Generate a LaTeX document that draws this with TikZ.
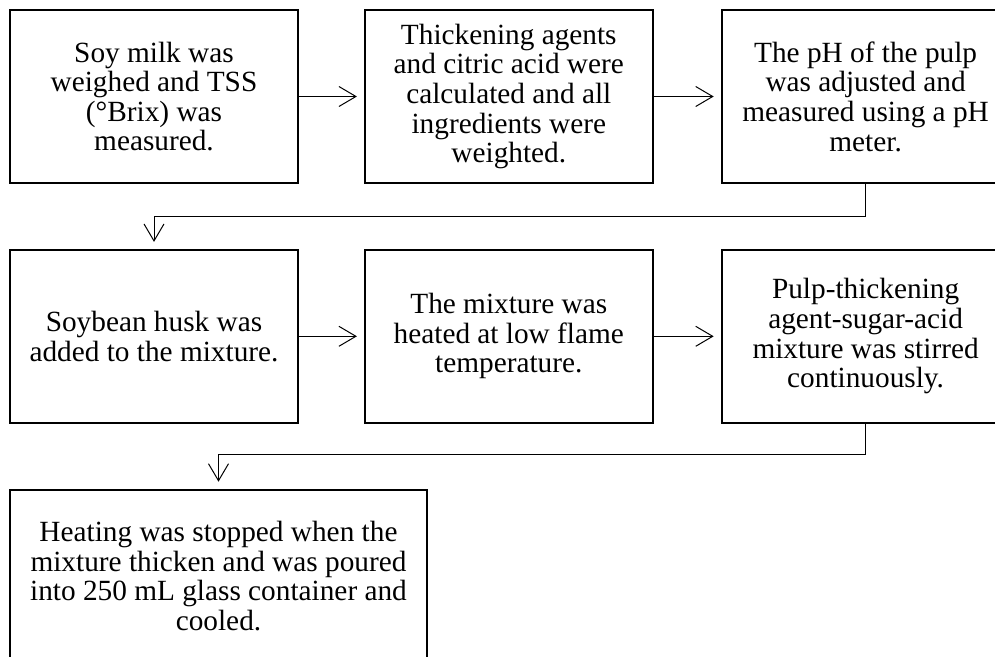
\documentclass[tikz,border=0pt]{standalone}
\usepackage{fontspec}
\setmainfont{Liberation Serif}
\usetikzlibrary{arrows.meta,positioning}

\begin{document}
\begin{tikzpicture}[
    stepbox/.style={draw, line width=1.8pt, minimum width=288pt, minimum height=173pt,
      inner sep=0pt, align=center, font=\fontsize{29.3}{29.6}\selectfont},
    widebox/.style={stepbox, minimum width=417pt},
    link/.style={line width=1pt, -{Straight Barb[length=17pt,width=20pt]}, shorten >=7pt}
  ]
  \clip (-154pt,-559.5pt) rectangle (841pt,96.5pt);

  \node [stepbox] (soymilk) at (0,0) {Soy milk was\\weighed and TSS\\(°Brix) was\\measured.};
  \node [stepbox, right=65pt of soymilk] (agents) {Thickening agents\\and citric acid were\\calculated and all\\ingredients were\\weighted.};
  \node [stepbox, right=67pt of agents] (ph) {The pH of the pulp\\was adjusted and\\measured using a pH\\meter.};

  \node [stepbox, below=65pt of soymilk] (husk) {Soybean husk was\\added to the mixture.};
  \node [stepbox, below=65pt of agents] (heat) {The mixture was\\heated at low flame\\temperature.};
  \node [stepbox, below=65pt of ph] (stir) {Pulp-thickening\\agent-sugar-acid\\mixture was stirred\\continuously.};

  \node [widebox, below=65pt of husk.south west, anchor=north west] (cool) {Heating was stopped when the\\mixture thicken and was poured\\into 250 mL glass container and\\cooled.};

  \draw [link] (soymilk) -- (agents);
  \draw [link] (agents) -- (ph);
  \draw [link] (ph.south) -- ++(0,-33pt) -| (husk.north);
  \draw [link] (husk) -- (heat);
  \draw [link] (heat) -- (stir);
  \draw [link] (stir.south) -- ++(0,-31pt) -| (cool.north);
\end{tikzpicture}
\end{document}
